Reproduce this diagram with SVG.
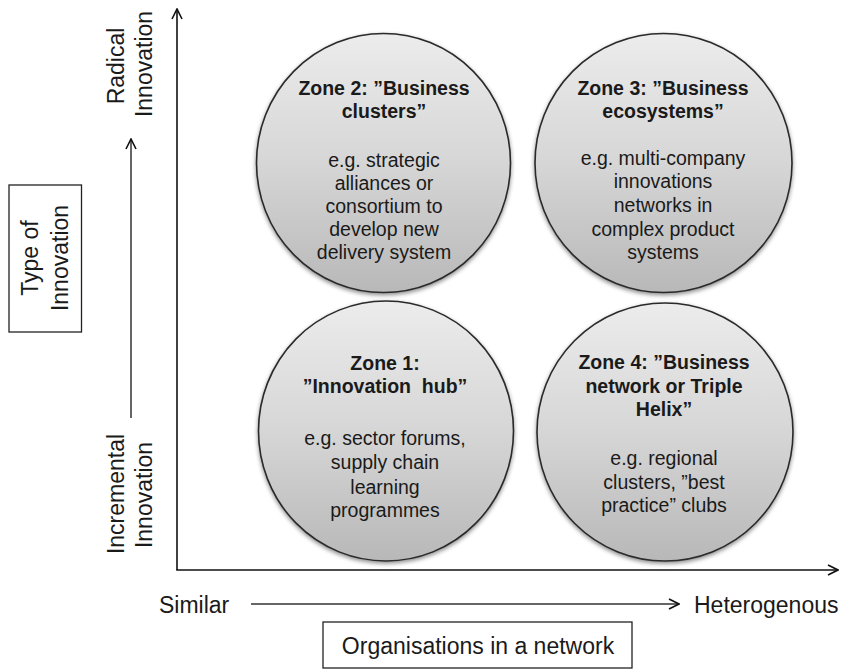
<svg xmlns="http://www.w3.org/2000/svg" width="842" height="669" viewBox="0 0 842 669">
<style>
.zt{font-family:"Liberation Sans",Arial,sans-serif;font-size:19.5px;font-weight:bold;fill:#1a1a1a;text-anchor:middle}
.zb{font-family:"Liberation Sans",Arial,sans-serif;font-size:19.5px;fill:#1a1a1a;text-anchor:middle}
.lbl{font-family:"Liberation Sans",Arial,sans-serif;font-size:23px;fill:#1a1a1a}
.circ{fill:url(#g);stroke:#2a2a2a;stroke-width:1.6;filter:url(#sh)}
.ax{stroke:#111;stroke-width:1.6;fill:none}
.ax2{stroke:#333;stroke-width:1.5;fill:none}
.box{fill:#fff;stroke:#222;stroke-width:1.3}
</style>
<defs>
<linearGradient id="g" x1="0" y1="0" x2="0" y2="1">
<stop offset="0" stop-color="#ececec"/>
<stop offset="0.5" stop-color="#d6d6d6"/>
<stop offset="1" stop-color="#b8b8b8"/>
</linearGradient>
<filter id="sh" x="-10%" y="-10%" width="120%" height="125%">
<feDropShadow dx="0" dy="2" stdDeviation="2" flood-color="#000" flood-opacity="0.45"/>
</filter>
<marker id="ah" viewBox="0 0 12 12" refX="11" refY="6" markerWidth="12" markerHeight="12" markerUnits="userSpaceOnUse" orient="auto">
<path d="M1,1 L11,6 L1,11" fill="none" stroke="#111" stroke-width="1.6"/>
</marker>
</defs>
<g id="connectors">
<path class="ax" d="M177,570 L177,9" marker-end="url(#ah)"/>
<path class="ax" d="M176.2,570 L838,570" marker-end="url(#ah)"/>
<path class="ax2" d="M131,418 L131,139" marker-end="url(#ah)"/>
<path class="ax2" d="M251,604 L679,604" marker-end="url(#ah)"/>
</g>
<g id="zone2">
<ellipse class="circ" cx="383.5" cy="163" rx="127" ry="129.5"/>
<text class="zt" x="384" y="95">Zone 2: ”Business</text>
<text class="zt" x="384" y="118">clusters”</text>
<text class="zb" x="384" y="167">e.g. strategic</text>
<text class="zb" x="384" y="190">alliances or</text>
<text class="zb" x="384" y="213">consortium to</text>
<text class="zb" x="384" y="236">develop new</text>
<text class="zb" x="384" y="259">delivery system</text>
</g>
<g id="zone3">
<ellipse class="circ" cx="663.5" cy="163" rx="128.5" ry="129.5"/>
<text class="zt" x="663" y="95">Zone 3: ”Business</text>
<text class="zt" x="663" y="118">ecosystems”</text>
<text class="zb" x="663" y="165">e.g. multi-company</text>
<text class="zb" x="663" y="188">innovations</text>
<text class="zb" x="663" y="212">networks in</text>
<text class="zb" x="663" y="236">complex product</text>
<text class="zb" x="663" y="259">systems</text>
</g>
<g id="zone1">
<ellipse class="circ" cx="386" cy="431" rx="127.5" ry="130"/>
<text class="zt" x="385" y="370">Zone 1:</text>
<text class="zt" x="385" y="393">”Innovation&#160; hub”</text>
<text class="zb" x="385" y="445">e.g. sector forums,</text>
<text class="zb" x="385" y="469">supply chain</text>
<text class="zb" x="385" y="494">learning</text>
<text class="zb" x="385" y="517">programmes</text>
</g>
<g id="zone4">
<ellipse class="circ" cx="665" cy="432" rx="128" ry="129"/>
<text class="zt" x="664" y="369">Zone 4: ”Business</text>
<text class="zt" x="664" y="393">network or Triple</text>
<text class="zt" x="664" y="416">Helix”</text>
<text class="zb" x="664" y="465">e.g. regional</text>
<text class="zb" x="664" y="489">clusters, ”best</text>
<text class="zb" x="664" y="512">practice” clubs</text>
</g>
<g id="radical">
<text class="lbl" text-anchor="middle" transform="translate(124,66) rotate(-90)">Radical</text>
<text class="lbl" text-anchor="middle" transform="translate(152,64) rotate(-90)">Innovation</text>
</g>
<g id="incremental">
<text class="lbl" text-anchor="middle" transform="translate(124,494) rotate(-90)">Incremental</text>
<text class="lbl" text-anchor="middle" transform="translate(152,495) rotate(-90)">Innovation</text>
</g>
<g id="type">
<rect class="box" x="9" y="185" width="72.5" height="147"/>
<text class="lbl" text-anchor="middle" transform="translate(38,258) rotate(-90)">Type of</text>
<text class="lbl" text-anchor="middle" transform="translate(68,258) rotate(-90)">Innovation</text>
</g>
<g id="similar">
<text class="lbl" x="159" y="613">Similar</text>
</g>
<g id="heterogenous">
<text class="lbl" x="694" y="613">Heterogenous</text>
</g>
<g id="organisations">
<rect class="box" x="323" y="622" width="309" height="46"/>
<text class="lbl" text-anchor="middle" x="478" y="654">Organisations in a network</text>
</g>
</svg>
